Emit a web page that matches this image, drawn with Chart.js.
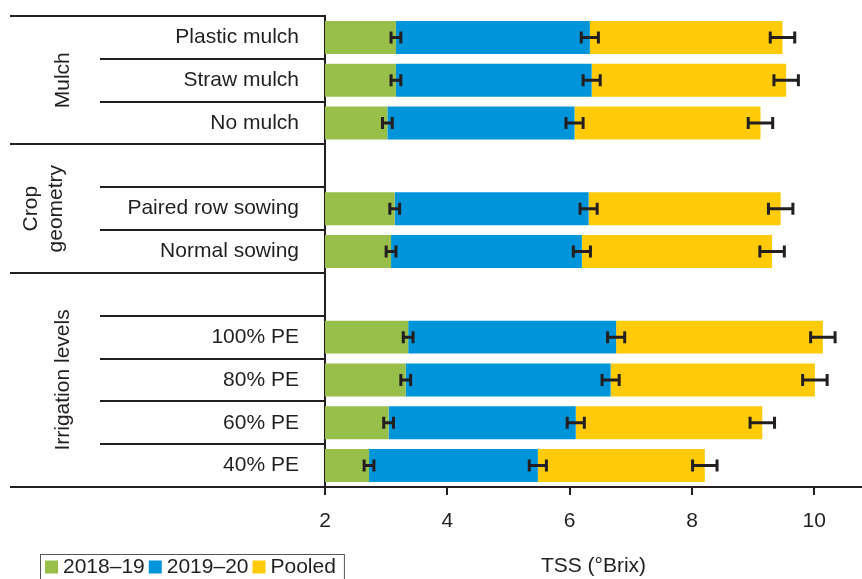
<!DOCTYPE html>
<html>
<head>
<meta charset="utf-8">
<script src="https://cdn.jsdelivr.net/npm/chart.js@4"></script>
<style>
  html, body { margin: 0; padding: 0; background: #ffffff; }
  canvas { display: block; }
</style>
</head>
<body>
<canvas id="c" width="862" height="579"></canvas>
<script>
// Treatments (blank entries are spacer rows between treatment groups)
const categories = ['Plastic mulch', 'Straw mulch', 'No mulch', '', 'Paired row sowing', 'Normal sowing', '', '100% PE', '80% PE', '60% PE', '40% PE'];
const seriesNames = ['2018–19', '2019–20', 'Pooled'];

// TSS (°Brix) per season, stacked end to end
const tss2018 = [3.16, 3.16, 3.02, null, 3.14, 3.08, null, 3.36, 3.32, 3.04, 2.72];
const tss2019 = [3.17, 3.20, 3.06, null, 3.17, 3.12, null, 3.40, 3.35, 3.06, 2.76];
const tssPooled = [3.15, 3.18, 3.04, null, 3.14, 3.11, null, 3.38, 3.34, 3.05, 2.73];

// Error bar half-widths, drawn at the end of each stacked segment
const err2018 = [0.08, 0.08, 0.08, null, 0.08, 0.08, null, 0.08, 0.08, 0.08, 0.08];
const err2019 = [0.14, 0.14, 0.14, null, 0.14, 0.14, null, 0.14, 0.14, 0.14, 0.14];
const errPooled = [0.20, 0.20, 0.20, null, 0.20, 0.20, null, 0.20, 0.20, 0.20, 0.20];

// Treatment groups: rotated label text and the rows they span
const groupLabels = [['Mulch'], ['Crop', 'geometry'], ['Irrigation levels']];
const groupFirstRow = [0, 3, 6];
const groupLastRow = [2, 5, 10];

const xTicks = [2, 4, 6, 8, 10];
const xTitle = 'TSS (°Brix)';

const COLORS = ['#97BF4A', '#0095DA', '#FFCB08'];
const INK = '#231F20';
const FONT = '"Liberation Sans", Arial, Helvetica, sans-serif';

const seriesValues = [tss2018, tss2019, tssPooled];
const seriesErrors = [err2018, err2019, errPooled];

// Group separators on the left, rotated group names
const groupFrame = {
  id: 'groupFrame',
  afterDraw(chart) {
    const ctx = chart.ctx;
    const y = chart.scales.y;
    const left = chart.chartArea.left;
    const fullEdges = new Set();
    groupFirstRow.forEach(r => fullEdges.add(r - 0.5));
    groupLastRow.forEach(r => fullEdges.add(r + 0.5));
    ctx.save();
    ctx.strokeStyle = INK;
    ctx.lineWidth = 2;
    for (let b = -0.5; b <= categories.length - 0.5; b += 1) {
      const py = Math.round(y.getPixelForValue(b));
      const x0 = fullEdges.has(b) ? 10 : 100;
      ctx.beginPath();
      ctx.moveTo(x0, py);
      ctx.lineTo(left, py);
      ctx.stroke();
    }
    ctx.fillStyle = INK;
    ctx.font = '21px ' + FONT;
    ctx.textAlign = 'center';
    ctx.textBaseline = 'middle';
    groupLabels.forEach((lines, g) => {
      const top = y.getPixelForValue(groupFirstRow[g] - 0.5);
      const bottom = y.getPixelForValue(groupLastRow[g] + 0.5);
      const cy = (top + bottom) / 2;
      const cx = lines.length > 1 ? 44 : 63;
      const lh = 25;
      ctx.save();
      ctx.translate(cx, cy);
      ctx.rotate(-Math.PI / 2);
      lines.forEach((t, k) => {
        ctx.fillText(t, 0, (k - (lines.length - 1) / 2) * lh);
      });
      ctx.restore();
    });
    ctx.restore();
  }
};

// Error bars at each cumulative segment end
const errorBars = {
  id: 'errorBars',
  afterDatasetsDraw(chart) {
    const ctx = chart.ctx;
    const xs = chart.scales.x;
    const ys = chart.scales.y;
    ctx.save();
    ctx.strokeStyle = INK;
    ctx.lineWidth = 3;
    categories.forEach((c, i) => {
      let end = 0;
      const py = ys.getPixelForValue(i);
      seriesValues.forEach((vals, s) => {
        if (vals[i] == null) return;
        end += vals[i];
        const e = seriesErrors[s][i];
        const xl = xs.getPixelForValue(end - e);
        const xr = xs.getPixelForValue(end + e);
        ctx.beginPath();
        ctx.moveTo(xl, py);
        ctx.lineTo(xr, py);
        ctx.moveTo(xl, py - 6);
        ctx.lineTo(xl, py + 6);
        ctx.moveTo(xr, py - 6);
        ctx.lineTo(xr, py + 6);
        ctx.stroke();
      });
    });
    ctx.restore();
  }
};

// Boxed legend in the lower left corner
const boxLegend = {
  id: 'boxLegend',
  afterDraw(chart) {
    const ctx = chart.ctx;
    ctx.save();
    ctx.font = '21px ' + FONT;
    ctx.textBaseline = 'middle';
    ctx.textAlign = 'left';
    const cy = 567;
    let x = 45;
    seriesNames.forEach((name, s) => {
      ctx.fillStyle = COLORS[s];
      ctx.fillRect(x, cy - 6.5, 13, 13);
      x += 18;
      ctx.fillStyle = INK;
      ctx.fillText(name, x, cy);
      x += ctx.measureText(name).width + 4;
    });
    ctx.strokeStyle = '#555555';
    ctx.lineWidth = 1;
    ctx.strokeRect(40.5, 554.5, x - 40 + 4, 40);
    ctx.restore();
  }
};

new Chart(document.getElementById('c'), {
  type: 'bar',
  data: {
    labels: categories,
    datasets: seriesNames.map((name, s) => ({
      label: name,
      data: seriesValues[s],
      backgroundColor: COLORS[s],
      borderWidth: 0,
      categoryPercentage: 1,
      barPercentage: 0.77
    }))
  },
  options: {
    indexAxis: 'y',
    responsive: false,
    animation: false,
    layout: { padding: { top: 16, left: 0, right: 0, bottom: 0 } },
    plugins: {
      legend: { display: false },
      tooltip: { enabled: false }
    },
    scales: {
      x: {
        type: 'linear',
        stacked: true,
        min: 2,
        max: 10.78,
        afterBuildTicks: s => { s.ticks = xTicks.map(v => ({ value: v })); },
        afterFit: s => { s.height = 92; s.paddingLeft = 0; s.paddingRight = 0; },
        grid: { display: true, drawOnChartArea: false, drawTicks: true, tickLength: 8, color: INK, lineWidth: 2 },
        border: { display: true, color: INK, width: 2 },
        ticks: { color: INK, padding: 14, font: { family: FONT, size: 21 }, maxRotation: 0 },
        title: { display: true, text: xTitle, color: INK, padding: { top: 0, bottom: 0 }, font: { family: FONT, size: 21, lineHeight: 1.2 } }
      },
      y: {
        type: 'category',
        stacked: true,
        afterFit: s => { s.width = 325; s.paddingTop = 0; s.paddingBottom = 0; },
        grid: { display: false, drawTicks: false },
        border: { display: true, color: INK, width: 2 },
        ticks: { color: INK, padding: 26, font: { family: FONT, size: 21 }, autoSkip: false }
      }
    }
  },
  plugins: [groupFrame, errorBars, boxLegend]
});
</script>
</body>
</html>
